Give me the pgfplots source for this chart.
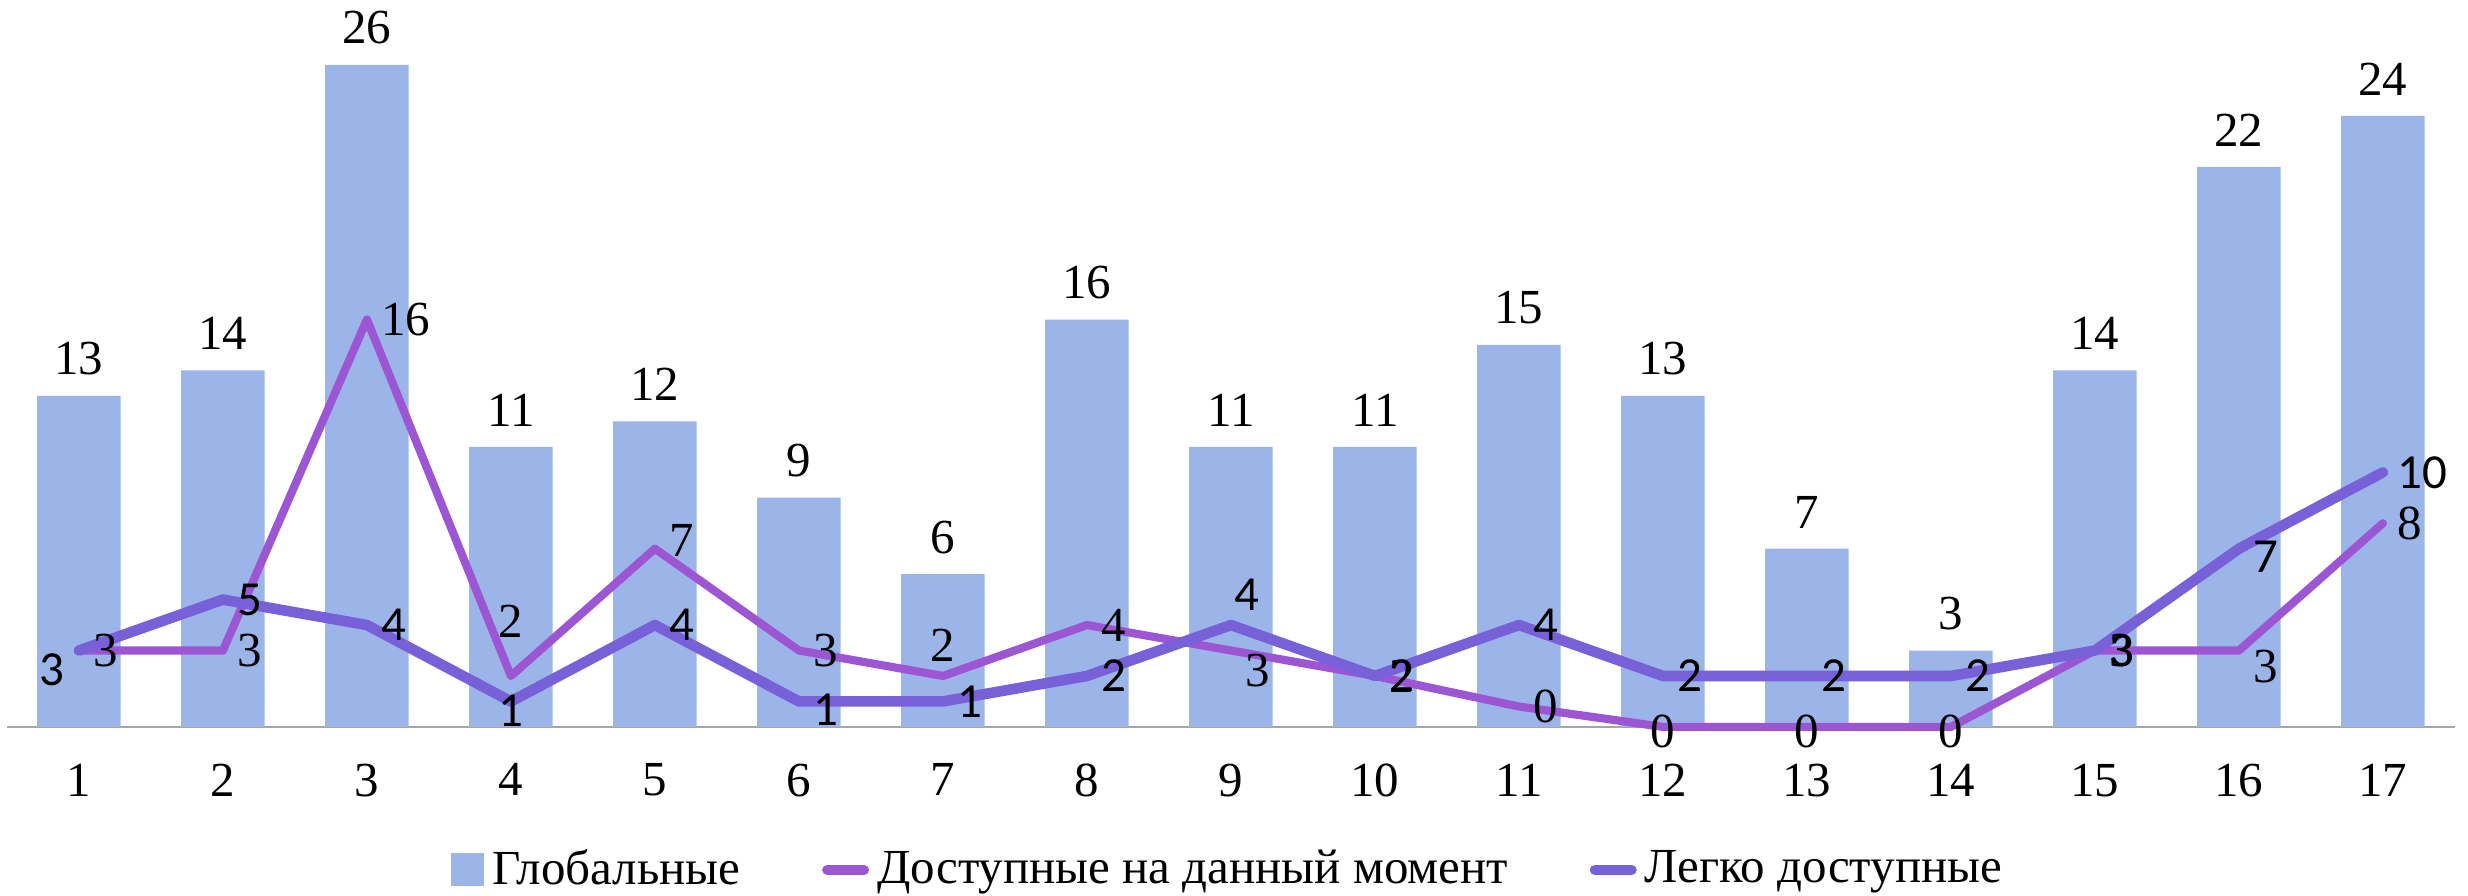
\documentclass[border=0pt]{standalone}
\usepackage{fontspec}
\setmainfont{Liberation Serif}
\newfontfamily\calfont{Carlito}
\usepackage{pgfplots}
\usepackage{pgfplotstable}
\pgfplotsset{compat=1.18}

\definecolor{barblue}{RGB}{155,181,233}
\definecolor{availpurple}{RGB}{156,86,211}
\definecolor{easyviolet}{RGB}{119,96,216}

% bars: Глобальные
\pgfplotstableread{
x y
1 13
2 14
3 26
4 11
5 12
6 9
7 6
8 16
9 11
10 11
11 15
12 13
13 7
14 3
15 14
16 22
17 24
}\globtab

% Доступные на данный момент
\pgfplotstableread{
x y
1 3
2 3
3 16
4 2
5 7
6 3
7 2
8 4
9 3
10 2
11 0.8
12 0
13 0
14 0
15 3
16 3
17 8
}\dosttab

% Легко доступные
\pgfplotstableread{
x y
1 3
2 5
3 4
4 1
5 4
6 1
7 1
8 2
9 4
10 2
11 4
12 2
13 2
14 2
15 3
16 7
17 10
}\legkotab

\pgfplotsset{
  lbl/.style={forget plot, draw=none, mark=none,
    point meta=explicit symbolic, nodes near coords,
    nodes near coords style={text=black, #1}},
  lblsans/.style={lbl={font=\calfont\fontsize{12}{14}\selectfont, #1}},
}

\begin{document}
\begin{tikzpicture}[font=\fontsize{12}{14}\selectfont]
\begin{axis}[
    scale only axis,
    width=599.8pt, height=178.1pt,
    xmin=0.5, xmax=17.5,
    ymin=0, ymax=28.55,
    axis x line=bottom,
    axis y line=none,
    x axis line style={-, draw=black!35, line width=0.6pt},
    xtick={1,...,17},
    major tick length=0pt,
    xticklabel style={yshift=-5.5pt},
    /pgf/number format/assume math mode=true,
    clip=false,
    legend columns=-1,
    legend style={draw=none, fill=none,
        at={(axis description cs:0.5,0)}, anchor=center, yshift=-35pt,
        /tikz/every even column/.append style={column sep=18pt},
        font=\fontsize{12}{14}\selectfont},
]

\addplot[ybar, bar width=0.58, fill=barblue, draw=none,
    nodes near coords,
    nodes near coords style={anchor=south, yshift=1.5pt, text=black},
    legend image code/.code={\fill[barblue] (0pt,-4pt) rectangle (8pt,4pt);}]
    table[x=x, y=y] {\globtab};
\addlegendentry{Глобальные}

\addplot[availpurple, line width=2pt, mark=none, line join=round, line cap=round,
    legend image code/.code={\draw[availpurple, line width=2.5pt, line cap=round] (0pt,0pt) -- (9pt,0pt);}]
    table[x=x, y=y] {\dosttab};
\addlegendentry{Доступные на данный момент}

\addplot[easyviolet, line width=2.6pt, mark=none, line join=round, line cap=round,
    legend image code/.code={\draw[easyviolet, line width=2.5pt, line cap=round] (0pt,0pt) -- (9pt,0pt);}]
    table[x=x, y=y] {\legkotab};
\addlegendentry{Легко доступные}

% data labels, Доступные на данный момент
\addplot[lbl={anchor=west}] coordinates {(1,3)[3] (2,3)[3] (3,16)[16] (6,3)[3] (8,4)[4]
    (10,2)[2] (11,0.8)[0] (15,3)[3] (17,8)[8]};
\addplot[lbl={anchor=west, yshift=2pt}] coordinates {(5,7)[7]};
\addplot[lbl={anchor=west, yshift=-5pt}] coordinates {(9,3)[3]};
\addplot[lbl={anchor=west, yshift=-4pt}] coordinates {(16,3)[3]};
\addplot[lbl={anchor=south, yshift=6pt}] coordinates {(4,2)[2]};
\addplot[lbl={anchor=south}] coordinates {(7,2)[2]};
\addplot[lbl={anchor=center, yshift=-1pt}] coordinates {(12,0)[0] (13,0)[0] (14,0)[0]};

% data labels, Легко доступные
\addplot[lblsans={anchor=east, yshift=-4.6pt}] coordinates {(1,3)[3]};
\addplot[lblsans={anchor=west}] coordinates {(2,5)[5] (3,4)[4] (5,4)[4] (7,1)[1] (8,2)[2]
    (10,2)[2] (11,4)[4] (12,2)[2] (13,2)[2] (14,2)[2] (15,3)[3] (17,10)[10]};
\addplot[lblsans={anchor=west, yshift=-2pt}] coordinates {(6,1)[1] (16,7)[7]};
\addplot[lblsans={anchor=north, yshift=5pt}] coordinates {(4,1)[1]};
\addplot[lblsans={anchor=south, xshift=4pt}] coordinates {(9,4)[4]};

\end{axis}
\pgfresetboundingbox
\path[use as bounding box] ([xshift=-1.7pt]current axis.north west)
    rectangle ([xshift=3.2pt, yshift=-41.4pt]current axis.south east);
\end{tikzpicture}
\end{document}
